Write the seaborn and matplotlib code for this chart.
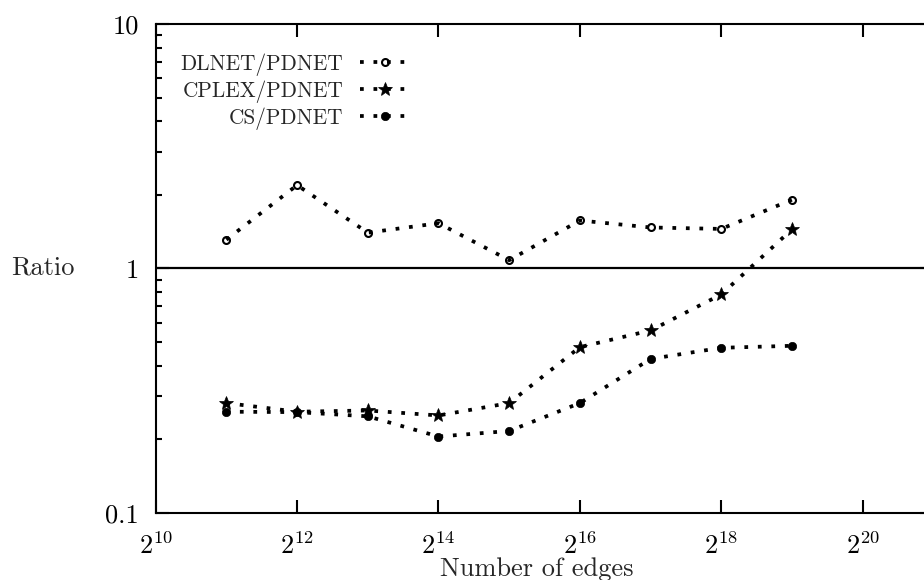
import numpy as np
import pandas as pd
import matplotlib
matplotlib.use("Agg")
import matplotlib.pyplot as plt
import matplotlib.ticker as mticker
import seaborn as sns

# ---- data -------------------------------------------------------------
exponents = [11, 12, 13, 14, 15, 16, 17, 18, 19]
dlnet_ratio = [1.31, 2.19, 1.40, 1.53, 1.08, 1.57, 1.47, 1.45, 1.91]
cplex_ratio = [0.281, 0.259, 0.262, 0.250, 0.281, 0.476, 0.557, 0.782, 1.445]
cs_ratio = [0.259, 0.258, 0.248, 0.205, 0.216, 0.281, 0.426, 0.473, 0.482]
series_names = ["DLNET/PDNET", "CPLEX/PDNET", "CS/PDNET"]

x_tick_exponents = [10, 12, 14, 16, 18, 20]
x_tick_labels = [r"$2^{10}$", r"$2^{12}$", r"$2^{14}$", r"$2^{16}$",
                 r"$2^{18}$", r"$2^{20}$"]
y_ticks = [0.1, 1, 10]
y_tick_labels = ["0.1", "1", "10"]

edges = [2.0 ** e for e in exponents]
df = pd.DataFrame({
    "edges": edges * 3,
    "ratio": dlnet_ratio + cplex_ratio + cs_ratio,
    "series": sum([[s] * len(edges) for s in series_names], []),
})

# ---- style ------------------------------------------------------------
sns.set_theme(style="ticks")
plt.rcParams["font.family"] = ["cmr10"]
plt.rcParams["mathtext.fontset"] = "cm"
plt.rcParams["axes.unicode_minus"] = False
plt.rcParams["axes.formatter.use_mathtext"] = True

W, H = 924, 580
fig = plt.figure(figsize=(W / 100, H / 100), dpi=100)
x0, x1 = 155.7, 933.4
y0, y1 = 512.7, 24.0
ax = fig.add_axes([x0 / W, (H - y0) / H, (x1 - x0) / W, (y0 - y1) / H])

dotted = (0, (1, 2.6))
styles = {
    "DLNET/PDNET": dict(marker="o", markersize=5, markerfacecolor="none",
                        markeredgecolor="black", markeredgewidth=1.5),
    "CPLEX/PDNET": dict(marker="*", markersize=10, markerfacecolor="black",
                        markeredgecolor="black", markeredgewidth=0.5),
    "CS/PDNET": dict(marker="o", markersize=6, markerfacecolor="black",
                     markeredgecolor="black", markeredgewidth=0.5),
}
for s in series_names:
    sns.lineplot(data=df[df["series"] == s], x="edges", y="ratio", ax=ax,
                 color="black", linestyle=dotted, linewidth=2.7,
                 errorbar=None, sort=False, label=s, **styles[s])

ax.axhline(1, color="black", linewidth=1.6, zorder=1)

ax.set_xscale("log", base=2)
ax.set_yscale("log")
ax.set_xlim(2.0 ** 10, 2.0 ** 21)
ax.set_ylim(0.1, 10)

ax.xaxis.set_major_locator(mticker.FixedLocator([2.0 ** e for e in x_tick_exponents]))
ax.xaxis.set_major_formatter(mticker.FixedFormatter(x_tick_labels))
ax.xaxis.set_minor_locator(mticker.NullLocator())
ax.yaxis.set_major_locator(mticker.FixedLocator(y_ticks))
ax.yaxis.set_major_formatter(mticker.FixedFormatter(y_tick_labels))
ax.yaxis.set_minor_locator(mticker.LogLocator(base=10, subs=np.arange(2, 10)))
ax.yaxis.set_minor_formatter(mticker.NullFormatter())

ax.tick_params(which="both", direction="in", top=True, right=True,
               colors="black", width=1.5)
ax.tick_params(which="major", length=9.5)
ax.tick_params(which="minor", length=4.5)
ax.tick_params(axis="x", which="major", labelsize=19, pad=14)
ax.tick_params(axis="y", which="major", labelsize=19, pad=12)

for sp in ax.spines.values():
    sp.set_visible(True)
    sp.set_color("black")
    sp.set_linewidth(1.5)

ax.set_xlabel("Number of edges", fontsize=19, va="top")
ax.xaxis.set_label_coords(0.49, -0.092)
ax.set_ylabel("Ratio", fontsize=19, rotation=0, ha="center", va="center")
ax.yaxis.set_label_coords((43 - x0) / (x1 - x0), (y0 - 268) / (y0 - y1))

leg = ax.legend(loc="upper right", bbox_to_anchor=(409 / W, 1 - 53 / H),
                bbox_transform=fig.transFigure, frameon=False,
                markerfirst=False, fontsize=15.3, handlelength=2.3,
                handletextpad=0.8, labelspacing=0.22, borderpad=0,
                borderaxespad=0, numpoints=1)

fig.savefig("out.png", dpi=100)
